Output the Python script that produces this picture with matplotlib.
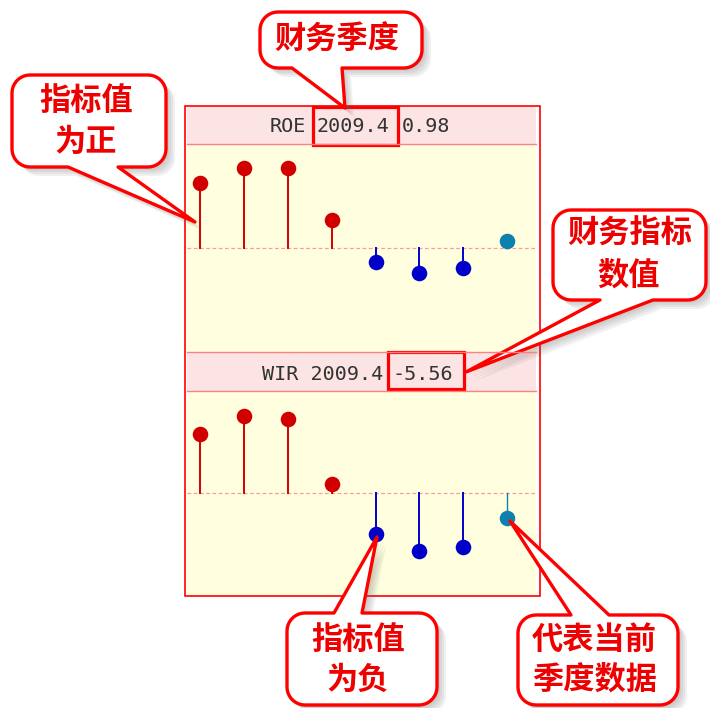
import numpy as np
import matplotlib
matplotlib.use('Agg')
import matplotlib.pyplot as plt
from matplotlib.patches import Polygon, Rectangle

plt.rcParams['font.family'] = ['Noto Sans CJK SC', 'DejaVu Sans']

# quarters shown in each panel, the last one is the current quarter
quarters = ['2007.1', '2007.2', '2007.3', '2007.4', '2008.1', '2008.2', '2008.3', '2009.4']
roe = [9.1, 11.2, 11.1, 3.8, -2.0, -3.5, -2.9, 0.98]
wir = [13.3, 17.3, 16.7, 2.2, -9.1, -12.9, -12.0, -5.56]
roe_lim = (-14.6, 14.5)
wir_lim = (-22.7, 22.9)

pos_color = '#D00000'
neg_color = '#0000C8'
cur_color = '#0E80AE'

W, H = 710, 708
fig = plt.figure(figsize=(W / 100, H / 100), dpi=100)
fig.patch.set_facecolor('white')


def px_axes(x0, y0, x1, y1):
  # axes placed by pixel box (y measured from top)
  return fig.add_axes([x0 / W, 1 - y1 / H, (x1 - x0) / W, (y1 - y0) / H])


# one stem panel
def stem_panel(ax, values, ylim):
  ax.set_facecolor('#FFFFE0')
  n = len(values)
  ax.axhline(0, color='#FF9A9A', lw=0.9, ls=(0, (3, 2)), zorder=1)
  for i, v in enumerate(values):
    if i == n - 1:
      c, lw = cur_color, 1.0
    elif v >= 0:
      c, lw = pos_color, 1.4
    else:
      c, lw = neg_color, 1.4
    ax.plot([i, i], [0, v], color=c, lw=lw, zorder=2)
    ax.plot(i, v, 'o', color=c, ms=11.2, mec='none', zorder=3)
  ax.set_xlim(-0.3, n - 1 + 0.66)
  ax.set_ylim(*ylim)
  ax.set_xticks([])
  ax.set_yticks([])
  for s in ax.spines.values():
    s.set_visible(False)


ax1 = px_axes(187, 144, 536, 352)
stem_panel(ax1, roe, roe_lim)
ax2 = px_axes(187, 391, 536, 595)
stem_panel(ax2, wir, wir_lim)

# overlay in pixel coordinates for headers, frame and callouts
ov = fig.add_axes([0, 0, 1, 1])
ov.set_xlim(0, W)
ov.set_ylim(H, 0)
ov.axis('off')
ov.patch.set_visible(False)
ov.set_zorder(10)

# header bands
for (y0, y1) in [(107, 144), (352, 391)]:
  ov.add_patch(Rectangle((187, y0), 349, y1 - y0, fc='#FDE4E4', ec='none'))
  ov.plot([187, 536], [y1, y1], color='#FF8080', lw=1.0)
ov.plot([187, 536], [352, 352], color='#FF8080', lw=1.0)

# outer frame
ov.add_patch(Rectangle((185, 106), 355, 490, fc='none', ec='#FF0000', lw=1.2))

mono = dict(family='DejaVu Sans Mono', fontsize=14.5, color='#333333', va='center', ha='left')
ov.text(270, 127, 'ROE', **mono)
ov.text(317, 127, quarters[-1], **mono)
ov.text(402, 127, '%.2f' % roe[-1], **mono)
ov.text(262, 374, 'WIR ' + quarters[-1], **mono)
ov.text(392, 374, '%.2f' % wir[-1], **mono)
ov.add_patch(Rectangle((313, 107), 85, 38, fc='none', ec='#FF0000', lw=2.3))
ov.add_patch(Rectangle((388, 352), 76, 37, fc='none', ec='#FF0000', lw=2.3))


# speech bubble outline: rounded box with a tail on top or bottom edge
def bubble(x0, y0, x1, y1, side, t0, t1, tip, r=18):
  pts = []

  def arc(cx, cy, a0, a1):
    for a in np.linspace(np.radians(a0), np.radians(a1), 10):
      pts.append((cx + r * np.cos(a), cy + r * np.sin(a)))

  pts.append((x0 + r, y0))
  if side == 'top':
    pts += [(t0, y0), tip, (t1, y0)]
  arc(x1 - r, y0 + r, -90, 0)
  arc(x1 - r, y1 - r, 0, 90)
  if side == 'bottom':
    pts += [(t1, y1), tip, (t0, y1)]
  arc(x0 + r, y1 - r, 90, 180)
  arc(x0 + r, y0 + r, 180, 270)
  pts = np.array(pts)
  # soft shadow
  for off in [9, 7, 5, 3]:
    ov.add_patch(Polygon(pts + [off, off], closed=True, fc='#606060', ec='none', alpha=0.09))
  ov.add_patch(Polygon(pts, closed=True, fc='white', ec='#FF0000', lw=2.4, joinstyle='round'))


def bubble_text(x, y, s):
  ov.text(x, y, s, ha='center', va='center', fontsize=22.5, fontweight='bold', color='#EE0000')


bubble(260, 12, 422, 68, 'bottom', 292, 342, (345, 108))
bubble_text(337, 40, '财务季度')

bubble(12, 75, 166, 167, 'bottom', 68, 118, (195, 222))
bubble_text(86, 101, '指标值')
bubble_text(86, 142, '为正')

bubble(553, 210, 706, 300, 'bottom', 600, 653, (466, 372))
bubble_text(630, 234, '财务指标')
bubble_text(629, 276, '数值')

bubble(287, 613, 437, 705, 'top', 334, 362, (377, 537))
bubble_text(358, 640, '指标值')
bubble_text(358, 680, '为负')

bubble(518, 615, 678, 705, 'top', 571, 609, (510, 521))
bubble_text(594, 640, '代表当前')
bubble_text(595, 680, '季度数据')

fig.savefig('out.png', dpi=100)
